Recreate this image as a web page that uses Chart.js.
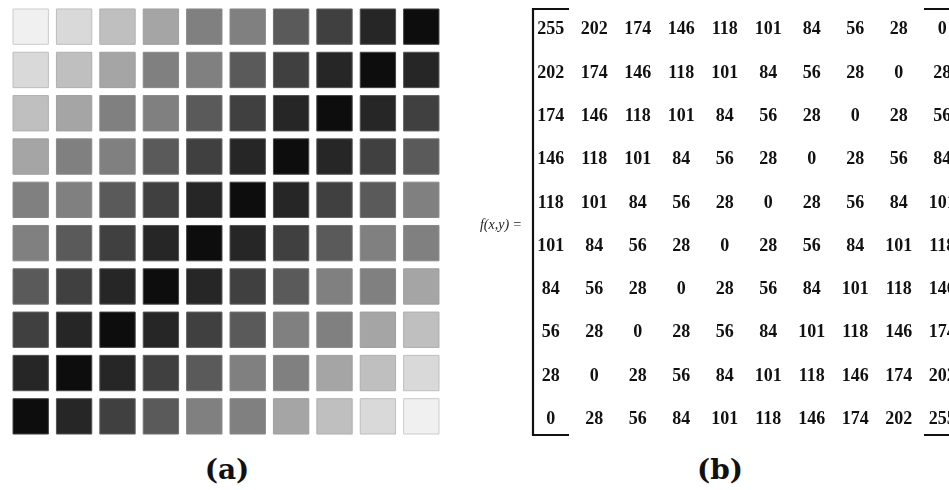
<!DOCTYPE html>
<html>
<head>
<meta charset="utf-8">
<script src="https://cdn.jsdelivr.net/npm/chart.js@4.4.1/dist/chart.umd.min.js"></script>
<style>
    html, body { margin: 0; padding: 0; background: #fff; overflow: hidden; }
    body { width: 949px; height: 490px; position: relative; }
    #gridChart { position: absolute; left: 0; top: 0; }
    #matrixChart { position: absolute; left: 460px; top: 0; }
    .caption {
        position: absolute; top: 455px; width: 100px; text-align: center;
        font-family: "DejaVu Serif", serif; font-size: 28px; line-height: 30px; color: #111;
        font-weight: bold;
    }
</style>
</head>
<body>
<canvas id="gridChart" width="455" height="445"></canvas>
<canvas id="matrixChart" width="510" height="445"></canvas>
<div class="caption" style="left:177px;">(a)</div>
<div class="caption" style="left:670px;">(b)</div>

<script>
/* --------------- Data: f(x,y), one array per row  --------------------- */
const row0 = [255, 202, 174, 146, 118, 101, 84, 56, 28, 0];
const row1 = [202, 174, 146, 118, 101, 84, 56, 28, 0, 28];
const row2 = [174, 146, 118, 101, 84, 56, 28, 0, 28, 56];
const row3 = [146, 118, 101, 84, 56, 28, 0, 28, 56, 84];
const row4 = [118, 101, 84, 56, 28, 0, 28, 56, 84, 101];
const row5 = [101, 84, 56, 28, 0, 28, 56, 84, 101, 118];
const row6 = [84, 56, 28, 0, 28, 56, 84, 101, 118, 146];
const row7 = [56, 28, 0, 28, 56, 84, 101, 118, 146, 174];
const row8 = [28, 0, 28, 56, 84, 101, 118, 146, 174, 202];
const row9 = [0, 28, 56, 84, 101, 118, 146, 174, 202, 255];
const rows = [row0, row1, row2, row3, row4, row5, row6, row7, row8, row9];

/* --------------- Grey shown for each level in panel (a)  --------------------- */
const levels = [0, 28, 56, 84, 101, 118, 146, 174, 202, 255];
const shownGrey = [13, 38, 64, 90, 128, 128, 165, 191, 217, 240];

const greyOf = (v) => shownGrey[levels.indexOf(v)];

/* --------------- Cells --------------------- */
const cells = [];
rows.forEach((r, y) => r.forEach((v, x) => cells.push({ x: x, y: y, v: v })));

const hiddenScales = {
    x: { type: "linear", min: -0.5, max: 9.5, display: false },
    y: { type: "linear", min: -0.5, max: 9.5, reverse: true, display: false },
};

/* --------------- Panel (a): grey squares --------------------- */
new Chart(document.getElementById("gridChart"), {
    type: "scatter",
    data: {
        datasets: [{
            data: cells.map(c => ({ x: c.x, y: c.y })),
            pointStyle: "rect",
            pointRadius: 25,
            pointBorderWidth: 1,
            backgroundColor: cells.map(c => {
                const g = greyOf(c.v);
                return `rgb(${g},${g},${g})`;
            }),
            borderColor: cells.map(c => {
                const g = Math.round(greyOf(c.v) + (150 - greyOf(c.v)) * 0.4);
                return `rgb(${g},${g},${g})`;
            }),
        }],
    },
    options: {
        responsive: false,
        animation: false,
        events: [],
        layout: { autoPadding: false, padding: { left: 9, right: 12, top: 5, bottom: 7 } },
        scales: hiddenScales,
        plugins: { legend: { display: false }, tooltip: { enabled: false } },
    },
});

/* --------------- Panel (b): numbers in brackets --------------------- */
const matrixText = {
    id: "matrixText",
    afterDatasetsDraw(chart) {
        const ctx = chart.ctx;
        const { x, y } = chart.scales;
        ctx.save();
        ctx.fillStyle = "#111";
        ctx.font = 'bold 18px "Liberation Serif"';
        ctx.textAlign = "center";
        ctx.textBaseline = "middle";
        chart.getDatasetMeta(0).data.forEach((pt, i) => {
            ctx.fillText(String(cells[i].v), pt.x, pt.y + 1);
        });

        // brackets
        const left = x.getPixelForValue(-0.5) + 4;
        const right = x.getPixelForValue(9.5) - 4;
        const top = y.getPixelForValue(-0.5) + 2;
        const bottom = y.getPixelForValue(9.5) - 5;
        const tick = 36;
        ctx.strokeStyle = "#111";
        ctx.lineWidth = 2.2;
        ctx.beginPath();
        ctx.moveTo(left + tick, top);
        ctx.lineTo(left, top);
        ctx.lineTo(left, bottom);
        ctx.lineTo(left + tick, bottom);
        ctx.moveTo(right - tick, top);
        ctx.lineTo(right, top);
        ctx.lineTo(right, bottom);
        ctx.lineTo(right - tick, bottom);
        ctx.stroke();

        // f(x,y) =
        ctx.fillStyle = "#222";
        ctx.font = 'italic 14px "Liberation Serif"';
        ctx.textAlign = "right";
        const midY = (y.getPixelForValue(4) + y.getPixelForValue(5)) / 2 + 2;
        ctx.fillText("f(x,y) =", left - 11, midY);
        ctx.restore();
    },
};

new Chart(document.getElementById("matrixChart"), {
    type: "scatter",
    plugins: [matrixText],
    data: {
        datasets: [{
            data: cells.map(c => ({ x: c.x, y: c.y })),
            pointRadius: 0,
        }],
    },
    options: {
        responsive: false,
        animation: false,
        events: [],
        layout: { autoPadding: false, padding: { left: 69, right: 6, top: 7, bottom: 5 } },
        scales: hiddenScales,
        plugins: { legend: { display: false }, tooltip: { enabled: false } },
    },
});
</script>
</body>
</html>
